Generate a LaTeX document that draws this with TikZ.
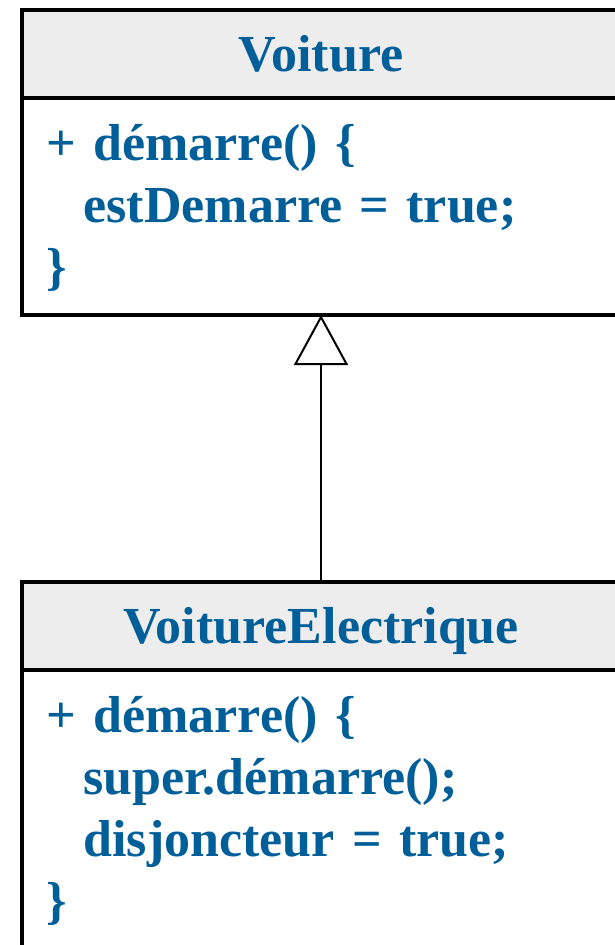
\documentclass[tikz,border=0pt]{standalone}
\usepackage{fontspec}
\setmainfont{Liberation Serif}
\usepackage{tikz}
\usetikzlibrary{positioning,arrows.meta}
\definecolor{umlblue}{RGB}{0,94,152}
\definecolor{headgray}{RGB}{237,237,237}

\begin{document}
\begin{tikzpicture}[
  font=\bfseries\fontsize{52}{62}\selectfont,
  classhead/.style={rectangle, draw=black, line width=4pt, fill=headgray, text=umlblue, minimum width=598pt, minimum height=88pt, text height=35pt, text depth=0pt, outer sep=0pt},
  classbody/.style={rectangle, draw=black, line width=4pt, fill=white, text=umlblue, minimum width=598pt, text width=549pt, inner xsep=24.5pt, inner ysep=18.6pt, align=left, outer sep=0pt},
  inherit/.style={-{Triangle[open, length=50pt, width=54pt]}, line width=2pt, draw=black},
  node distance=0pt
]
\useasboundingbox (0pt,0pt) rectangle (614pt,-945pt);
\node[classhead] (voiture) at (321pt,-54pt) {Voiture};
\node[classbody, below=of voiture] (voiturebody) {\strut+ démarre() \{\\\hspace*{37pt}estDemarre = true;\\\}\rule[-12.4pt]{0pt}{0pt}};
\node[classhead, below=267pt of voiturebody] (electrique) {VoitureElectrique};
\node[classbody, below=of electrique] (electriquebody) {\strut+ démarre() \{\\\hspace*{37pt}super.démarre();\\\hspace*{37pt}disjoncteur = true;\\\}\rule[-12.4pt]{0pt}{0pt}};
\draw[inherit] (electrique) -- (voiturebody);
\end{tikzpicture}
\end{document}
